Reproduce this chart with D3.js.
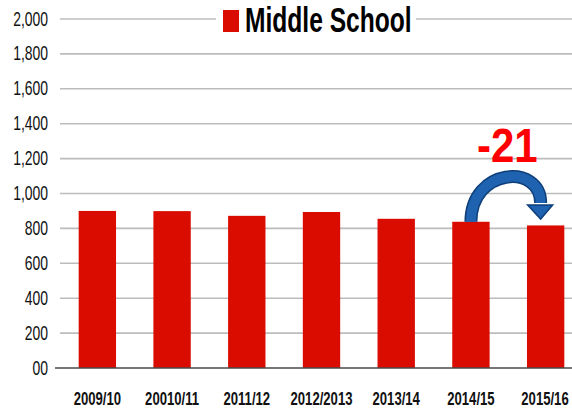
<!DOCTYPE html>
<html><head><meta charset="utf-8">
<script src="https://cdn.jsdelivr.net/npm/d3@7"></script>
<style>
html,body{margin:0;padding:0;background:#fff;overflow:hidden;}
svg{display:block;}
</style></head>
<body>
<svg id="chart" width="572" height="409"></svg>
<script>
const categories = ["2009/10","20010/11","2011/12","2012/2013","2013/14","2014/15","2015/16"];
const values = [900, 899, 872, 894, 855, 838, 817];
const yTicks = [0,200,400,600,800,1000,1200,1400,1600,1800,2000];
const yTickLabels = ["00","200","400","600","800","1,000","1,200","1,400","1,600","1,800","2,000"];
const seriesName = "Middle School";
const changeLabel = "-21";

const svg = d3.select("#chart");
const W = 572, H = 409;
const sans = "'Liberation Sans',Arial,sans-serif";
const SX = 0.82, SY = 1.16;

const x = d3.scaleBand().domain(categories).range([60, 583]).paddingInner(0.5).paddingOuter(0.25);
const y = d3.scaleLinear().domain([0, 2000]).range([368, 19]);

// gridlines
svg.append("g").selectAll("line").data(yTicks.filter(d => d > 0)).join("line")
  .attr("x1", 60).attr("x2", W)
  .attr("y1", d => y(d)).attr("y2", d => y(d))
  .attr("stroke", "#bcbcbc").attr("stroke-width", 1.6);

// y labels
svg.append("g").selectAll("text").data(yTicks).join("text")
  .attr("transform", d => `translate(48,${y(d) + 6.5}) scale(${SX},${SY})`)
  .attr("text-anchor", "end")
  .style("font-family", sans).style("font-size", "17px").attr("fill", "#111")
  .text((d, i) => yTickLabels[i]);

// bars
svg.append("g").selectAll("rect").data(values).join("rect")
  .attr("x", (d, i) => x(categories[i]))
  .attr("width", x.bandwidth())
  .attr("y", d => y(d))
  .attr("height", d => y(0) - y(d))
  .attr("fill", "#da0c00");

// axis line
svg.append("line").attr("x1", 55).attr("x2", W).attr("y1", y(0)).attr("y2", y(0))
  .attr("stroke", "#4a4a4a").attr("stroke-width", 1.6);

// x labels
svg.append("g").selectAll("text").data(categories).join("text")
  .attr("transform", d => `translate(${Math.min(x(d) + x.bandwidth() / 2, 545)},405) scale(${SX},${SY})`)
  .attr("text-anchor", "middle")
  .style("font-family", sans).style("font-size", "16px").style("font-weight", "bold")
  .attr("fill", "#111")
  .text(d => d);

// legend
svg.append("rect").attr("x", 216).attr("y", 4).attr("width", 200).attr("height", 32).attr("fill", "#fff");
svg.append("rect").attr("x", 223).attr("y", 10).attr("width", 16).attr("height", 22).attr("fill", "#da0c00");
svg.append("text")
  .attr("transform", `translate(245,32) scale(${SX},${SY})`)
  .style("font-family", sans).style("font-size", "30px").style("font-weight", "bold")
  .attr("fill", "#000").text(seriesName);

// change annotation
const i6 = 5, i7 = 6;
const x6 = x(categories[i6]) + x.bandwidth() / 2 + 2;
const x7 = x(categories[i7]) + x.bandwidth() / 2 - 6;
const yb = y(values[i6]) - 4;
svg.append("text")
  .attr("transform", `translate(${(x6 + x7) / 2 + 1},162) scale(1,${SY})`)
  .attr("text-anchor", "middle")
  .style("font-family", sans).style("font-size", "42px").style("font-weight", "bold")
  .attr("fill", "#ff0000").text(changeLabel);

const p = d3.path();
p.moveTo(x6 - 2, yb + 4);
p.bezierCurveTo(x6 - 2, 168, x7 + 1, 163, x7 + 1, 203);
svg.append("path").attr("d", p.toString()).attr("fill", "none")
  .attr("stroke", "#0f3f7a").attr("stroke-width", 13);
svg.append("path").attr("d", p.toString()).attr("fill", "none")
  .attr("stroke", "#1f63b0").attr("stroke-width", 10);
svg.append("path")
  .attr("d", `M${x7 - 12},205 L${x7 + 13},205 L${x7 + 1},219 Z`)
  .attr("fill", "#1f63b0").attr("stroke", "#0f3f7a").attr("stroke-width", 1.5);
</script>
</body></html>
